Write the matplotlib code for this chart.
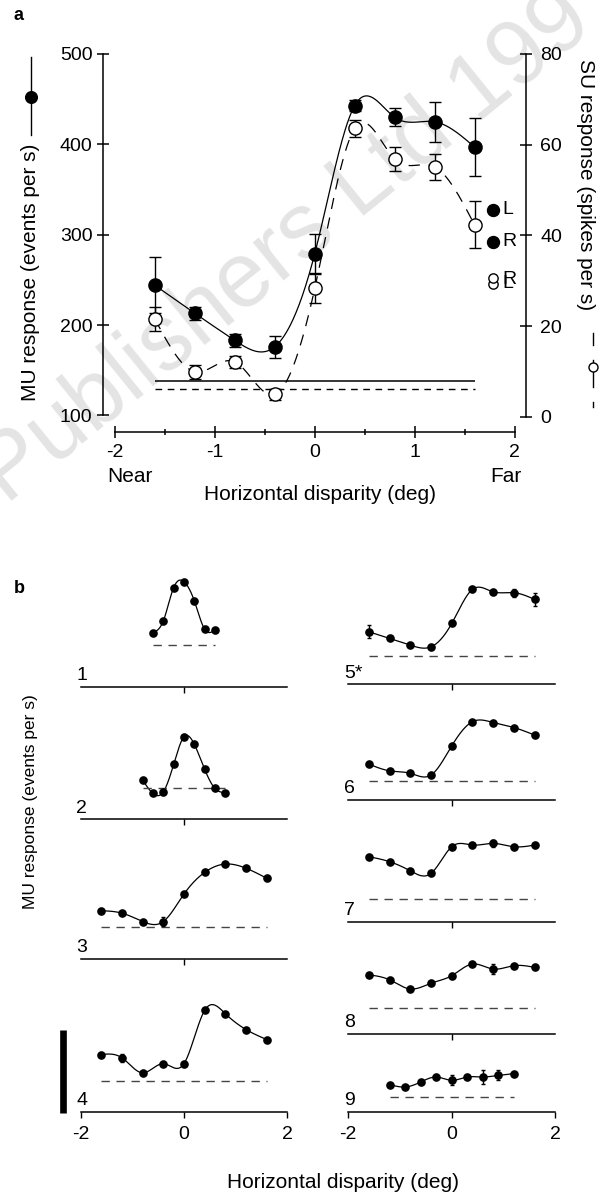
import numpy as np
import matplotlib
matplotlib.use('Agg')
import matplotlib.pyplot as plt
from matplotlib.lines import Line2D

plt.rcParams['font.family'] = ['Liberation Sans', 'DejaVu Sans']
plt.rcParams['axes.unicode_minus'] = False

# ---- panel a data ----
disp = [-1.6, -1.2, -0.8, -0.4, 0.0, 0.4, 0.8, 1.2, 1.6]
mu = [244, 213, 183, 176, 279, 443, 430, 425, 397]
mu_err = [31, 7, 7, 12, 22, 6, 10, 22, 32]
su = [21.5, 9.9, 12.1, 4.9, 28.3, 63.6, 56.8, 55.1, 42.3]
su_err = [2.6, 1.5, 1.3, 1.3, 3.3, 1.8, 2.6, 2.8, 5.2]
mu_spont = 138
su_spont = 6.1

# ---- panel b data (MU response, scale bar = 100) ----
cell_ids = ['1', '2', '3', '4', '5*', '6', '7', '8', '9']
x_fine7 = [-0.6, -0.4, -0.2, 0.0, 0.2, 0.4, 0.6]
x_fine9 = [-0.8, -0.6, -0.4, -0.2, 0.0, 0.2, 0.4, 0.6, 0.8]
x_wide = [-1.6, -1.2, -0.8, -0.4, 0.0, 0.4, 0.8, 1.2, 1.6]
x_mid = [-1.2, -0.9, -0.6, -0.3, 0.0, 0.3, 0.6, 0.9, 1.2]
cell_x = [x_fine7, x_fine9, x_wide, x_wide, x_wide, x_wide, x_wide, x_wide, x_mid]
cell_y = [
    [65, 79, 119, 126, 103, 69, 68],
    [47, 31, 33, 66, 99, 90, 60, 37, 32],
    [58, 55, 45, 45, 78, 104, 114, 109, 97],
    [69, 65, 47, 58, 58, 122, 118, 99, 87],
    [63, 55, 47, 45, 73, 114, 111, 110, 102],
    [43, 35, 32, 30, 65, 94, 93, 87, 78],
    [78, 72, 61, 58, 90, 92, 94, 90, 92],
    [71, 65, 54, 61, 70, 84, 78, 82, 80],
    [33, 30, 36, 42, 38, 42, 42, 44, 46],
]
cell_err = [
    [0] * 7,
    [0] * 9,
    [0, 0, 0, 5, 0, 0, 0, 0, 0],
    [0, 5, 0, 0, 0, 0, 0, 0, 0],
    [8, 0, 0, 0, 0, 0, 0, 5, 8],
    [0] * 9,
    [0, 0, 0, 0, 0, 0, 4, 0, 0],
    [0, 0, 0, 0, 0, 0, 6, 0, 0],
    [0, 0, 0, 0, 6, 0, 8, 6, 0],
]
cell_spont = [50, 37, 39, 37, 34, 23, 27, 31, 18]
scale_bar = 100


def natural_spline(x, y, num=300):
    x = np.asarray(x, float)
    y = np.asarray(y, float)
    n = len(x)
    h = np.diff(x)
    A = np.zeros((n, n))
    r = np.zeros(n)
    A[0, 0] = A[-1, -1] = 1
    for i in range(1, n - 1):
        A[i, i - 1] = h[i - 1]
        A[i, i] = 2 * (h[i - 1] + h[i])
        A[i, i + 1] = h[i]
        r[i] = 6 * ((y[i + 1] - y[i]) / h[i] - (y[i] - y[i - 1]) / h[i - 1])
    M = np.linalg.solve(A, r)
    xs = np.linspace(x[0], x[-1], num)
    k = np.clip(np.searchsorted(x, xs) - 1, 0, n - 2)
    t0 = x[k + 1] - xs
    t1 = xs - x[k]
    hk = h[k]
    ys = (M[k] * t0**3 + M[k + 1] * t1**3) / (6 * hk) \
        + (y[k] / hk - M[k] * hk / 6) * t0 + (y[k + 1] / hk - M[k + 1] * hk / 6) * t1
    return xs, ys


W, H = 602, 1195
fig = plt.figure(figsize=(W / 100, H / 100), dpi=100)


def fx(px):
    return px / W


def fy(py):
    return 1 - py / H


# watermark
fig.text(fx(6), fy(505), 'Publishers Ltd 199', fontsize=66, color='#e4e4e4',
         rotation=39, rotation_mode='anchor', ha='left', va='baseline', zorder=-5)

# ================= panel a =================
axa = fig.add_axes([fx(103.3), fy(431.7), (526 - 103.3) / W, (431.7 - 54) / H])
axa.patch.set_visible(False)
axa.set_xlim(-2.117, 2.115)
axa.set_ylim(82, 500)
axr = axa.twinx()
axr.set_ylim(-3.31, 80)

xs, ys = natural_spline(disp, mu)
axa.plot(xs, ys, color='k', lw=0.9, zorder=2)
axa.hlines(mu_spont, disp[0], disp[-1], colors='k', lw=1.1)
axa.errorbar(disp, mu, yerr=mu_err, fmt='o', ms=9.5, mfc='k', mec='k',
             ecolor='k', elinewidth=1, capsize=4, capthick=1, zorder=3)

xs, ys = natural_spline(disp, su)
axr.plot(xs, ys, color='k', lw=0.9, ls=(0, (9, 7)), zorder=2)
axr.hlines(su_spont, disp[0], disp[-1], colors='k', lw=1, linestyles=(0, (4.8, 4)))
axr.errorbar(disp, su, yerr=su_err, fmt='o', ms=9.5, mfc='white', mec='k', mew=1,
             ecolor='k', elinewidth=1, capsize=4, capthick=1, zorder=3)

for s in ['top', 'right']:
    axa.spines[s].set_visible(False)
for s in ['top', 'left', 'bottom']:
    axr.spines[s].set_visible(False)
axa.spines['left'].set_bounds(100, 500)
axa.spines['bottom'].set_bounds(-2, 2)
axr.spines['right'].set_bounds(0, 80)
for sp in [axa.spines['left'], axa.spines['bottom'], axr.spines['right']]:
    sp.set_linewidth(1.1)

axa.set_xticks([-2, -1, 0, 1, 2])
axa.set_xticks([-1.5, -0.5, 0.5, 1.5], minor=True)
axa.set_yticks([100, 200, 300, 400, 500])
axr.set_yticks([0, 20, 40, 60, 80])
axa.tick_params(axis='x', which='major', direction='inout', length=8, width=1.1,
                labelsize=14, pad=5)
axa.tick_params(axis='x', which='minor', direction='inout', length=4, width=1.1)
axa.tick_params(axis='y', direction='inout', length=8.5, width=1.1, labelsize=14, pad=3.5)
axr.tick_params(axis='y', direction='inout', length=8.5, width=1.1, labelsize=14, pad=6)

fig.text(fx(107), fy(477), 'Near', fontsize=15, ha='left', va='center')
fig.text(fx(522), fy(477), 'Far', fontsize=15, ha='right', va='center')
fig.text(fx(320), fy(495), 'Horizontal disparity (deg)', fontsize=15, ha='center', va='center')
fig.text(fx(31), fy(272), 'MU response (events per s)', fontsize=15, rotation=90,
         ha='center', va='center')
fig.text(fx(586), fy(185), 'SU response (spikes per s)', fontsize=15, rotation=270,
         ha='center', va='center')

# y-label line glyphs
tf = fig.transFigure
fig.add_artist(Line2D([fx(31), fx(31)], [fy(56.7), fy(135)], color='k', lw=1, transform=tf))
fig.add_artist(Line2D([fx(31)], [fy(96.7)], marker='o', ms=8.4, color='k', transform=tf))
for y0, y1 in [(333, 345), (360, 387), (402, 407)]:
    fig.add_artist(Line2D([fx(593), fx(593)], [fy(y0), fy(y1)], color='k', lw=1, transform=tf))
fig.add_artist(Line2D([fx(593)], [fy(367)], marker='o', ms=6.5, mfc='white', mec='k',
                      mew=1, transform=tf))

# eye legend
fig.add_artist(Line2D([fx(493.3)], [fy(210)], marker='o', ms=8.6, color='k', transform=tf))
fig.add_artist(Line2D([fx(493.3)], [fy(242)], marker='o', ms=8.6, color='k', transform=tf))
fig.text(fx(502), fy(210), 'L', fontsize=14, ha='left', va='center')
fig.text(fx(502), fy(242), 'R', fontsize=14, ha='left', va='center')
for yy in (284.3, 277.7):
    fig.add_artist(Line2D([fx(493)], [fy(yy)], marker='o', ms=6.7, mfc='white', mec='k',
                          mew=1, transform=tf))
fig.text(fx(502), fy(283.5), 'L', fontsize=14, ha='left', va='center')
fig.text(fx(502), fy(280), 'R', fontsize=14, ha='left', va='center')

fig.text(fx(19), fy(16), 'a', fontsize=13, fontweight='bold', ha='center', va='center')
fig.text(fx(19), fy(589), 'b', fontsize=13, fontweight='bold', ha='center', va='center')

# ================= panel b =================
col_px = [(80.7, 287.3), (348.3, 555.2)]
cell_col = [0, 0, 0, 0, 1, 1, 1, 1, 1]
cell_base = [686.7, 819.3, 959, 1112, 684.3, 800, 921.7, 1034, 1112]
px_per_unit = 0.833
ax_h = 115

for i in range(9):
    x0, x1 = col_px[cell_col[i]]
    ax = fig.add_axes([fx(x0), fy(cell_base[i]), (x1 - x0) / W, ax_h / H])
    ax.patch.set_visible(False)
    ax.set_xlim(-2, 2)
    ax.set_ylim(0, ax_h / px_per_unit)
    xs, ys = natural_spline(cell_x[i], cell_y[i])
    ax.plot(xs, ys, color='k', lw=0.9, clip_on=False)
    err = np.array(cell_err[i], float)
    ax.errorbar(cell_x[i], cell_y[i], yerr=np.where(err > 0, err, np.nan), fmt='o', ms=5.2,
                color='k', elinewidth=1, capsize=1.5, capthick=1, clip_on=False, zorder=3)
    ax.hlines(cell_spont[i], cell_x[i][0], cell_x[i][-1], colors='#444444', lw=1,
              linestyles=(0, (6, 4.8)))
    for s in ['top', 'right', 'left']:
        ax.spines[s].set_visible(False)
    ax.spines['bottom'].set_linewidth(1.1)
    ax.set_yticks([])
    bottom_row = cell_ids[i] in ('4', '9')
    ax.set_xticks([-2, 0, 2] if bottom_row else [0])
    ax.tick_params(axis='x', direction='out', length=4.3, width=1, labelsize=14, pad=6,
                   labelbottom=bottom_row)
    ax.annotate(cell_ids[i], xy=(0, 0), xycoords='axes fraction', xytext=(-3.2, 2),
                textcoords='offset points', ha='left', va='bottom', fontsize=14)
    if cell_ids[i] == '4':
        xb = -2 - (80.7 - 63.3) / 51.65
        ax.plot([xb, xb], [-1.6, scale_bar - 1.6], color='k', lw=4.8,
                solid_capstyle='butt', clip_on=False)

fig.text(fx(31), fy(802), 'MU response (events per s)', fontsize=12.5, rotation=90,
         ha='center', va='center')
fig.text(fx(343), fy(1182), 'Horizontal disparity (deg)', fontsize=15, ha='center', va='center')

fig.savefig('out.png', dpi=100)
